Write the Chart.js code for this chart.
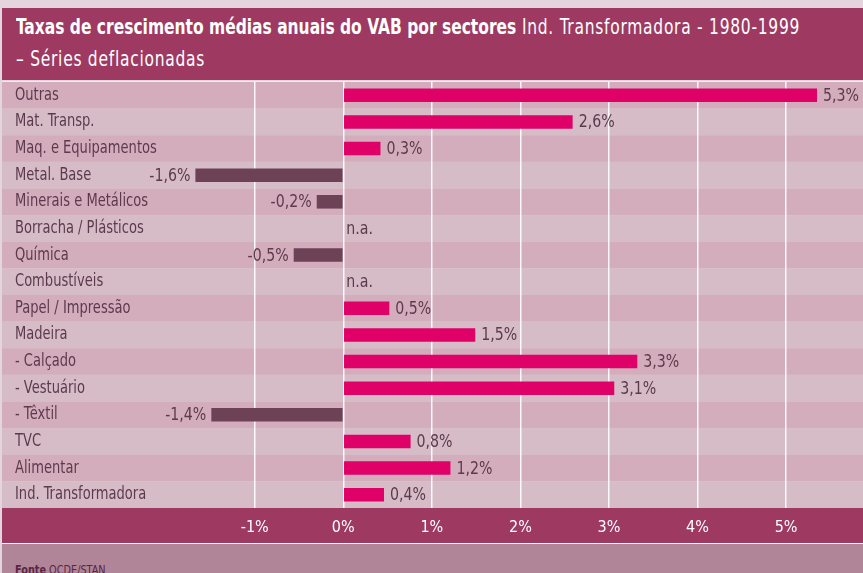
<!DOCTYPE html>
<html><head><meta charset="utf-8">
<script src="https://cdn.jsdelivr.net/npm/chart.js@4/dist/chart.umd.min.js"></script>
<style>
html,body{margin:0;padding:0;width:863px;height:573px;overflow:hidden;background:#e3d4de;}
#wrap{position:relative;width:863px;height:573px;}
#c{position:absolute;left:0;top:0;}
#title{position:absolute;left:2px;top:8px;width:861px;height:72px;box-sizing:border-box;padding:3px 0 0 14px;background:#9e3a62;color:#fff;font-family:"DejaVu Sans Condensed","Liberation Sans Narrow",sans-serif;font-size:21px;line-height:32px;white-space:nowrap;overflow:hidden;}
#title span{display:inline-block;transform:scaleX(0.82);transform-origin:0 0;letter-spacing:0.9px;}
#title b{font-weight:bold;letter-spacing:0;}
#foot{position:absolute;left:2px;top:544px;width:861px;height:29px;box-sizing:border-box;padding:19px 0 0 13px;background:#b08598;color:#5a2544;font-family:"DejaVu Sans Condensed","Liberation Sans Narrow",sans-serif;font-size:12px;line-height:14px;white-space:nowrap;overflow:hidden;}
#foot span{display:inline-block;transform:scaleX(0.9);transform-origin:0 0;}
</style>
</head><body>
<div id="wrap">
<canvas id="c" width="863" height="573"></canvas>
<div id="title"><span><b>Taxas de crescimento médias anuais do VAB por sectores</b> Ind. Transformadora - 1980-1999</span><br><span>– Séries deflacionadas</span></div>
<div id="foot"><span><b>Fonte</b> OCDE/STAN</span></div>
</div>
<script>
const categories = ["Outras","Mat. Transp.","Maq. e Equipamentos","Metal. Base","Minerais e Metálicos","Borracha / Plásticos","Química","Combustíveis","Papel / Impressão","Madeira","- Calçado","- Vestuário","- Têxtil","TVC","Alimentar","Ind. Transformadora"];
const growth = [5.35, 2.59, 0.42, -1.67, -0.30, null, -0.56, null, 0.52, 1.49, 3.32, 3.06, -1.49, 0.76, 1.21, 0.46];
const valueLabels = ["5,3%","2,6%","0,3%","-1,6%","-0,2%","n.a.","-0,5%","n.a.","0,5%","1,5%","3,3%","3,1%","-1,4%","0,8%","1,2%","0,4%"];
const tickValues = [-1, 0, 1, 2, 3, 4, 5];

const FONT = '"DejaVu Sans Condensed","Liberation Sans Narrow",sans-serif';
const POS = '#df0068', NEG = '#6d4257', TXT = '#5c3a4e';

function narrowText(ctx, text, x, y, align, sx) {
  ctx.save();
  ctx.translate(x, y);
  ctx.scale(sx, 1);
  ctx.textAlign = align;
  ctx.fillText(text, 0, 0);
  ctx.restore();
}

const bgPlugin = {
  id: 'bg',
  beforeDraw(chart) {
    const {ctx, chartArea: a, scales: {y}} = chart;
    ctx.save();
    const n = categories.length;
    const h = (a.bottom - a.top) / n;
    for (let i = 0; i < n; i++) {
      const yc = y.getPixelForValue(i);
      ctx.fillStyle = i % 2 === 0 ? '#d4adbc' : '#d6bcc7';
      ctx.fillRect(a.left, yc - h / 2, a.right - a.left, h);
    }
    ctx.fillStyle = '#f3e8ee';
    ctx.fillRect(a.left, a.top - 1, a.right - a.left, 1);
    ctx.fillStyle = '#9e3a62';
    ctx.fillRect(a.left, a.bottom, a.right - a.left, 35);
    ctx.fillStyle = '#ffffff';
    ctx.fillRect(a.left, a.bottom + 35, a.right - a.left, 1);
    ctx.restore();
  }
};

const labelPlugin = {
  id: 'vlabels',
  afterDatasetsDraw(chart) {
    const {ctx, chartArea: a, scales: {x, y}} = chart;
    const meta = chart.getDatasetMeta(0);
    ctx.save();
    ctx.fillStyle = TXT;
    ctx.textBaseline = 'middle';
    ctx.font = '17.5px ' + FONT;
    categories.forEach((c, i) => {
      narrowText(ctx, c, a.left + 13, y.getPixelForValue(i), 'left', 0.83);
    });
    ctx.font = '17.5px ' + FONT;
    growth.forEach((v, i) => {
      const yc = y.getPixelForValue(i) + 1;
      if (v === null) {
        narrowText(ctx, valueLabels[i], x.getPixelForValue(0) + 3, yc, 'left', 0.9);
      } else if (v >= 0) {
        narrowText(ctx, valueLabels[i], meta.data[i].x + 6, yc, 'left', 0.9);
      } else {
        narrowText(ctx, valueLabels[i], meta.data[i].x - 5, yc, 'right', 0.9);
      }
    });
    ctx.restore();
  }
};

new Chart(document.getElementById('c'), {
  type: 'bar',
  data: {
    labels: categories,
    datasets: [{
      data: growth,
      backgroundColor: growth.map(v => (v !== null && v < 0) ? NEG : POS),
      borderWidth: 0,
      barPercentage: 0.51,
      categoryPercentage: 1.0
    }]
  },
  options: {
    indexAxis: 'y',
    responsive: false,
    devicePixelRatio: 1,
    animation: false,
    layout: {padding: {top: 82, bottom: 30, left: 2, right: 0}},
    plugins: {legend: {display: false}, tooltip: {enabled: false}, title: {display: false}},
    scales: {
      x: {
        type: 'linear',
        min: -3.854,
        max: 5.869,
        afterBuildTicks(scale) { scale.ticks = tickValues.map(v => ({value: v})); },
        afterFit(scale) { scale.height = 35; },
        grid: {color: 'rgba(255,255,255,0.9)', lineWidth: 1.5, drawTicks: false},
        border: {display: false},
        ticks: {
          color: '#ffffff',
          font: {family: FONT, size: 16},
          padding: 10,
          maxRotation: 0,
          callback: v => v + '%'
        }
      },
      y: {
        afterFit(scale) { scale.width = 0; },
        grid: {display: false, drawTicks: false},
        border: {display: false},
        ticks: {display: false}
      }
    }
  },
  plugins: [bgPlugin, labelPlugin]
});
</script>
</body></html>
